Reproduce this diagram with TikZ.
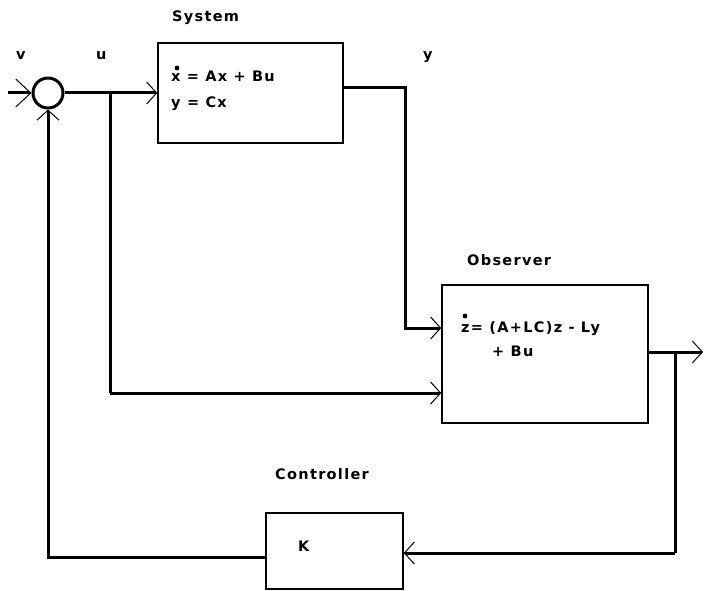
\documentclass[tikz,border=0pt]{standalone}
\usepackage{fontspec}
\setmainfont{DejaVu Sans}[LetterSpace=9]
\usetikzlibrary{arrows.meta}
\tikzset{
  blk/.style={draw, line width=1.4pt, rectangle, inner sep=0pt},
  conn/.style={line width=3pt, line join=miter},
  tip/.style={-{Straight Barb[length=10pt,width=22pt,line width=1pt]}},
  bigtip/.style={-{Straight Barb[length=15pt,width=28pt,line width=1pt]}},
  lbl/.style={font=\bfseries\fontsize{14.5}{17}\selectfont, anchor=base west, inner sep=0pt},
  dotmark/.style={fill=black},
}
\begin{document}
\begin{tikzpicture}[x=1pt,y=-1pt]
\useasboundingbox[fill=white] (0,0) rectangle (715,591);
% blocks
\node[blk, minimum width=185pt, minimum height=100pt] (sys) at (250.5,93) {};
\node[blk, minimum width=206pt, minimum height=138pt] (obs) at (545,354) {};
\node[blk, minimum width=137pt, minimum height=76pt] (ctrl) at (334.5,551) {};
\node[circle, draw, line width=3pt, minimum size=30pt, inner sep=0pt] (sum) at (48,93) {};
% coordinates
\coordinate (vin) at (8,93);
\coordinate (b1) at (110,93);
\coordinate (b1d) at (110,393);
\coordinate (yc) at (405,88);
\coordinate (yd) at (405,328);
\coordinate (zo) at (675,352);
\coordinate (out) at (703,352);
\coordinate (b2d) at (675,553);
\coordinate (kl) at (48,557);
% connectors
\draw[conn, bigtip] (vin) -- (sum.west);
\draw[conn, tip] (sum.east) -- (sys.west);
\draw[conn] (b1) -- (b1d);
\draw[conn, tip] (b1d) -- (obs.west |- b1d);
\draw[conn, tip] (sys.east |- yc) -- (yc) -- (yd) -- (obs.west |- yd);
\draw[conn, tip] (obs.east |- zo) -- (out);
\draw[conn] (zo) -- (b2d);
\draw[conn, tip] (b2d) -- (ctrl.east |- b2d);
\draw[conn, tip] (ctrl.west |- kl) -- (kl) -- (sum.south);
% labels
\node[lbl] (lv) at (16,60) {v};
\node[lbl] (lu) at (96,60) {u};
\node[lbl] (ly) at (423,60) {y};
\node[lbl] (lsys) at (172,22) {System};
\node[lbl] (e1) at (171,82) {x = Ax + Bu};
\node[lbl] (e2) at (171,108) {y = Cx};
\node[lbl] (lobs) at (467,265) {Observer};
\node[lbl] (e3) at (461,332) {z= (A+LC)z - Ly};
\node[lbl] (e4) at (492,356) {+ Bu};
\node[lbl] (lctrl) at (275,479) {Controller};
\node[lbl] (lk) at (298,551) {K};
% time-derivative dots
\fill[dotmark] (177,68) circle (2.4pt);
\fill[dotmark] (465,316) circle (2.4pt);
\end{tikzpicture}
\end{document}
